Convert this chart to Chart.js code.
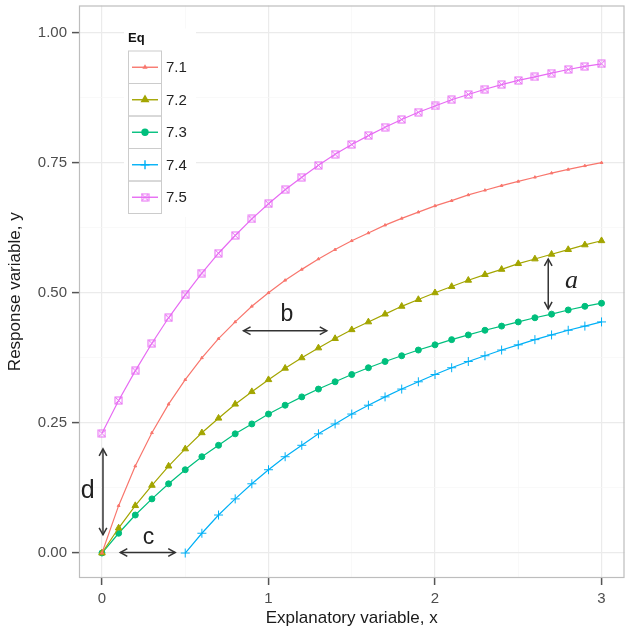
<!DOCTYPE html>
<html>
<head>
<meta charset="utf-8">
<script src="https://cdn.jsdelivr.net/npm/chart.js@4/dist/chart.umd.min.js"></script>
<style>
  html, body { margin: 0; padding: 0; background: #fff; }
  #chart { display: block; }
</style>
</head>
<body>
<canvas id="chart" width="630" height="637"></canvas>
<script>
// x positions of the evaluated points
const xs = [0, 0.1, 0.2, 0.3, 0.4, 0.5, 0.6, 0.7, 0.8, 0.9, 1.0,
  1.1, 1.2, 1.3, 1.4, 1.5, 1.6, 1.7, 1.8, 1.9, 2.0,
  2.1, 2.2, 2.3, 2.4, 2.5, 2.6, 2.7, 2.8, 2.9, 3.0];

const eqLabels = ["7.1", "7.2", "7.3", "7.4", "7.5"];

const y71 = [0, 0.091, 0.167, 0.231, 0.286, 0.333, 0.375, 0.412, 0.444, 0.474, 0.5,
  0.524, 0.545, 0.565, 0.583, 0.6, 0.615, 0.63, 0.643, 0.655, 0.667,
  0.677, 0.688, 0.697, 0.706, 0.714, 0.722, 0.73, 0.737, 0.744, 0.75];
const y72 = [0, 0.048, 0.091, 0.13, 0.167, 0.2, 0.231, 0.259, 0.286, 0.31, 0.333,
  0.355, 0.375, 0.394, 0.412, 0.429, 0.444, 0.459, 0.474, 0.487, 0.5,
  0.512, 0.524, 0.535, 0.545, 0.556, 0.565, 0.574, 0.583, 0.592, 0.6];
const y73 = [0, 0.038, 0.073, 0.104, 0.133, 0.16, 0.185, 0.207, 0.229, 0.248, 0.267,
  0.284, 0.3, 0.315, 0.329, 0.343, 0.356, 0.368, 0.379, 0.39, 0.4,
  0.41, 0.419, 0.428, 0.436, 0.444, 0.452, 0.459, 0.467, 0.474, 0.48];
// 7.4 starts at x = 0.5
const y74 = [0, 0.038, 0.073, 0.104, 0.133, 0.16, 0.185, 0.207, 0.229, 0.248, 0.267,
  0.284, 0.3, 0.315, 0.329, 0.343, 0.356, 0.368, 0.379, 0.39, 0.4,
  0.41, 0.419, 0.428, 0.436, 0.444];
const y75 = [0.23, 0.293, 0.35, 0.403, 0.452, 0.496, 0.538, 0.576, 0.61, 0.642, 0.671,
  0.698, 0.722, 0.745, 0.766, 0.785, 0.802, 0.818, 0.833, 0.847, 0.859,
  0.871, 0.881, 0.891, 0.9, 0.908, 0.915, 0.922, 0.929, 0.935, 0.94];

const xTicks = [0, 0.5, 1, 1.5, 2, 2.5, 3];
const yTicks = [0, 0.125, 0.25, 0.375, 0.5, 0.625, 0.75, 0.875, 1];

// annotation arrows and letters, in data units
const arrows = [
  { x1: 2.68, y1: 0.565, x2: 2.68, y2: 0.469 },
  { x1: 0.85, y1: 0.427, x2: 1.35, y2: 0.427 },
  { x1: 0.11, y1: 0.001, x2: 0.44, y2: 0.001 },
  { x1: 0.006, y1: 0.2, x2: 0.006, y2: 0.035 }
];
const letters = [
  { text: "a", x: 2.82, y: 0.523, font: "italic 26px 'Liberation Serif'" },
  { text: "b", x: 1.11, y: 0.458, font: "23px 'Liberation Sans'" },
  { text: "c", x: 0.28, y: 0.03, font: "23px 'Liberation Sans'" },
  { text: "d", x: -0.085, y: 0.119, font: "25px 'Liberation Sans'" }
];

const colors = ["#F8766D", "#A3A500", "#00BF7D", "#00B0F6", "#E76BF3"];

// square with a cross inside, for 7.5
function squareCross(color) {
  const c = document.createElement("canvas");
  c.width = 9; c.height = 9;
  const g = c.getContext("2d");
  g.strokeStyle = color;
  g.lineWidth = 1;
  g.strokeRect(1, 1, 7, 7);
  g.beginPath();
  g.moveTo(1, 1); g.lineTo(8, 8);
  g.moveTo(8, 1); g.lineTo(1, 8);
  g.stroke();
  return c;
}

function pts(xv, yv) {
  return yv.map((y, i) => ({ x: xv[i], y: y }));
}

const styles = [
  { pointStyle: "triangle", radius: 1.6 },
  { pointStyle: "triangle", radius: 3.8 },
  { pointStyle: "circle", radius: 3 },
  { pointStyle: "cross", radius: 4.5 },
  { pointStyle: squareCross(colors[4]), radius: 4.5 }
];

const series = [pts(xs, y71), pts(xs, y72), pts(xs, y73), pts(xs.slice(5), y74), pts(xs, y75)];

const datasets = series.map((d, i) => ({
  label: eqLabels[i],
  data: d,
  borderColor: colors[i],
  backgroundColor: colors[i],
  borderWidth: 1.2,
  pointStyle: styles[i].pointStyle,
  pointRadius: styles[i].radius,
  pointBorderWidth: 1,
  pointBorderColor: colors[i],
  pointBackgroundColor: colors[i],
  tension: 0
}));

function isMajor(v) {
  return Math.abs(v * 4 - Math.round(v * 4)) < 1e-6;
}

// panel border, arrows, letters and the "Eq" key
const extras = {
  id: "extras",
  beforeDatasetsDraw(chart) {
    const { ctx, chartArea: a } = chart;
    ctx.save();
    ctx.strokeStyle = "#bdbdbd";
    ctx.lineWidth = 1.2;
    ctx.strokeRect(a.left + 0.5, a.top + 0.5, a.right - a.left - 1, a.bottom - a.top - 1);
    ctx.restore();
  },
  afterDatasetsDraw(chart) {
    const { ctx, chartArea: a, scales: { x, y } } = chart;
    ctx.save();
    ctx.strokeStyle = "#333";
    ctx.fillStyle = "#222";
    ctx.lineWidth = 1.5;
    arrows.forEach(r => {
      const px1 = x.getPixelForValue(r.x1), py1 = y.getPixelForValue(r.y1);
      const px2 = x.getPixelForValue(r.x2), py2 = y.getPixelForValue(r.y2);
      ctx.beginPath();
      ctx.moveTo(px1, py1); ctx.lineTo(px2, py2);
      ctx.stroke();
      const ang = Math.atan2(py2 - py1, px2 - px1);
      [[px1, py1, ang + Math.PI], [px2, py2, ang]].forEach(([hx, hy, t]) => {
        ctx.beginPath();
        ctx.moveTo(hx - 8 * Math.cos(t - 0.5), hy - 8 * Math.sin(t - 0.5));
        ctx.lineTo(hx, hy);
        ctx.lineTo(hx - 8 * Math.cos(t + 0.5), hy - 8 * Math.sin(t + 0.5));
        ctx.stroke();
      });
    });
    ctx.textAlign = "center";
    ctx.textBaseline = "middle";
    letters.forEach(l => {
      ctx.font = l.font;
      ctx.fillText(l.text, x.getPixelForValue(l.x), y.getPixelForValue(l.y));
    });

    // key
    const kx = a.left + 49, ky = a.top + 45, kw = 33, kh = 32.5;
    ctx.fillStyle = "#fff";
    ctx.fillRect(kx - 4, ky - 22, 72, 22 + kh * datasets.length + 4);
    ctx.fillStyle = "#111";
    ctx.font = "bold 13px 'Liberation Sans'";
    ctx.textAlign = "left";
    ctx.fillText("Eq", kx, ky - 12);
    datasets.forEach((ds, i) => {
      const top = ky + i * kh;
      ctx.strokeStyle = "#cccccc";
      ctx.lineWidth = 1;
      ctx.strokeRect(kx + 0.5, top + 0.5, kw, kh);
      const cy = top + kh / 2 + 0.5;
      ctx.strokeStyle = ds.borderColor;
      ctx.lineWidth = 1.4;
      ctx.beginPath();
      ctx.moveTo(kx + 4, cy); ctx.lineTo(kx + kw - 3, cy);
      ctx.stroke();
      ctx.fillStyle = ds.borderColor;
      Chart.helpers.drawPoint(ctx, {
        pointStyle: ds.pointStyle, radius: ds.pointRadius,
        rotation: 0, borderWidth: 1
      }, kx + kw / 2 + 0.5, cy);
      ctx.fillStyle = "#222";
      ctx.font = "15px 'Liberation Sans'";
      ctx.fillText(ds.label, kx + kw + 5, cy + 1);
    });
    ctx.restore();
  }
};

new Chart(document.getElementById("chart"), {
  type: "line",
  data: { datasets: datasets },
  options: {
    responsive: false,
    animation: false,
    devicePixelRatio: 1,
    layout: { padding: { top: 5, right: 4, left: 0, bottom: 0 } },
    plugins: { legend: { display: false }, tooltip: { enabled: false } },
    scales: {
      x: {
        type: "linear",
        min: -0.138,
        max: 3.138,
        afterBuildTicks: s => { s.ticks = xTicks.map(v => ({ value: v })); },
        afterFit: s => { s.height = 59; s.paddingLeft = 0; s.paddingRight = 0; },
        border: { display: false },
        grid: {
          color: c => Number.isInteger(c.tick.value) ? "#ebebeb" : "#f6f6f6",
          lineWidth: c => Number.isInteger(c.tick.value) ? 1.2 : 0.7,
          tickColor: c => Number.isInteger(c.tick.value) ? "#555" : "rgba(0,0,0,0)",
          tickWidth: 1.5,
          tickLength: 7
        },
        ticks: {
          padding: 5,
          color: "#4d4d4d",
          font: { family: "'Liberation Sans'", size: 15 },
          maxRotation: 0,
          autoSkip: false,
          callback: v => Number.isInteger(v) ? String(v) : ""
        },
        title: {
          display: true,
          text: "Explanatory variable, x",
          color: "#1a1a1a",
          font: { family: "'Liberation Sans'", size: 17 },
          padding: { top: 0, bottom: 8 }
        }
      },
      y: {
        min: -0.048,
        max: 1.052,
        afterBuildTicks: s => { s.ticks = yTicks.map(v => ({ value: v })); },
        afterFit: s => { s.width = 79; s.paddingTop = 0; s.paddingBottom = 0; },
        border: { display: false },
        grid: {
          color: c => isMajor(c.tick.value) ? "#ebebeb" : "#f6f6f6",
          lineWidth: c => isMajor(c.tick.value) ? 1.2 : 0.7,
          tickColor: c => isMajor(c.tick.value) ? "#555" : "rgba(0,0,0,0)",
          tickWidth: 1.5,
          tickLength: 7
        },
        ticks: {
          padding: 5,
          color: "#4d4d4d",
          font: { family: "'Liberation Sans'", size: 15 },
          autoSkip: false,
          callback: v => isMajor(v) ? v.toFixed(2) : ""
        },
        title: {
          display: true,
          text: "Response variable, y",
          color: "#1a1a1a",
          font: { family: "'Liberation Sans'", size: 17 },
          padding: { top: 5, bottom: 0 }
        }
      }
    }
  },
  plugins: [extras]
});
</script>
</body>
</html>
